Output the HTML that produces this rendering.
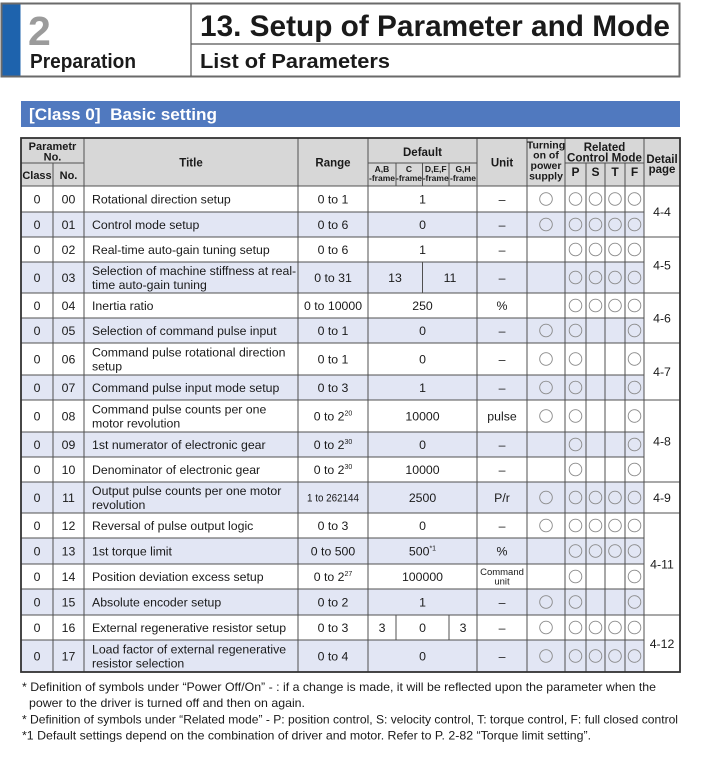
<!DOCTYPE html>
<html><head><meta charset="utf-8"><style>
html,body{margin:0;padding:0;background:#fff;}
svg{display:block;}
text{font-family:"Liberation Sans",Arial,sans-serif;fill:#1a1a1a;}
.b{font-weight:bold;}
.t{font-size:12.3px;}
.c{text-anchor:middle;}
.h{font-weight:bold;font-size:11.5px;text-anchor:middle;}
.ci{fill:none;stroke:#8a8a8a;stroke-width:0.9;}
</style></head><body>
<svg width="703" height="771" viewBox="0 0 703 771" xmlns="http://www.w3.org/2000/svg">
<!-- Page header -->
<rect x="1.5" y="3.5" width="678" height="73" fill="#fff" stroke="#6a6a6a" stroke-width="2"/>
<rect x="2.5" y="4.5" width="18" height="71" fill="#1e63ad"/>
<line x1="191" y1="4" x2="191" y2="76" stroke="#555" stroke-width="1.2"/>
<line x1="191" y1="44" x2="680" y2="44" stroke="#555" stroke-width="1.2"/>
<text x="28" y="45" class="b" style="font-size:41px;fill:#9b9b9b">2</text>
<text x="30" y="68" class="b" style="font-size:20px" textLength="106" lengthAdjust="spacingAndGlyphs">Preparation</text>
<text x="200" y="36" class="b" style="font-size:29.5px" textLength="470" lengthAdjust="spacingAndGlyphs">13. Setup of Parameter and Mode</text>
<text x="200" y="68" class="b" style="font-size:20px" textLength="190" lengthAdjust="spacingAndGlyphs">List of Parameters</text>

<!-- Class bar -->
<rect x="21" y="101" width="659" height="26" fill="#5079bf"/>
<text x="29" y="120" class="b" style="font-size:17px;fill:#fff" xml:space="preserve" textLength="188" lengthAdjust="spacingAndGlyphs">[Class 0]  Basic setting</text>

<!-- Table backgrounds -->
<rect x="21" y="138" width="659" height="48" fill="#d7d7d7"/>
<g fill="#e2e6f4">
<rect x="21" y="212" width="623" height="25"/>
<rect x="21" y="262" width="623" height="31"/>
<rect x="21" y="318" width="623" height="25"/>
<rect x="21" y="375" width="623" height="25"/>
<rect x="21" y="432" width="623" height="25"/>
<rect x="21" y="482" width="623" height="31"/>
<rect x="21" y="538" width="623" height="26"/>
<rect x="21" y="589" width="623" height="26"/>
<rect x="21" y="640" width="623" height="32"/>
</g>

<!-- Grid lines -->
<g stroke="#505050" stroke-width="1" fill="none">
<path d="M21 163H84M368 163H477M565 163H644"/>
<path d="M21 186H680M21 212H644M21 237H680M21 262H644M21 293H680M21 318H644M21 343H680M21 375H644M21 400H680M21 432H644M21 457H644M21 482H680M21 513H680M21 538H644M21 564H644M21 589H644M21 615H680M21 640H644"/>
<path d="M53 163V672M84 138V672M298 138V672M368 138V672M477 138V672M527 138V672M565 138V672M644 138V672"/>
<path d="M586 163V672M605 163V672M625 163V672"/>
<path d="M396 163V186M422.5 163V186M449 163V186"/>
<path d="M422.5 262V293M396 615V640M449 615V640"/>
</g>
<rect x="21" y="138" width="659" height="534" fill="none" stroke="#333" stroke-width="1.8"/>

<!-- Header text -->
<text x="52.5" y="150" class="h" style="font-size:11px">Parametr</text>
<text x="52.5" y="160.5" class="h" style="font-size:11px">No.</text>
<text x="37" y="179" class="h" style="font-size:11px">Class</text>
<text x="68.5" y="179" class="h" style="font-size:11px">No.</text>
<text x="191" y="166.5" class="h">Title</text>
<text x="333" y="166.5" class="h">Range</text>
<text x="422.5" y="156" class="h">Default</text>
<g class="h" style="font-size:8.5px">
<text x="382" y="172" class="h" style="font-size:8.5px">A,B</text>
<text x="382" y="181" class="h" style="font-size:8.5px">-frame</text>
<text x="409" y="172" class="h" style="font-size:8.5px">C</text>
<text x="409" y="181" class="h" style="font-size:8.5px">-frame</text>
<text x="435.7" y="172" class="h" style="font-size:8.5px">D,E,F</text>
<text x="435.7" y="181" class="h" style="font-size:8.5px">-frame</text>
<text x="463" y="172" class="h" style="font-size:8.5px">G,H</text>
<text x="463" y="181" class="h" style="font-size:8.5px">-frame</text>
</g>
<text x="502" y="166.5" class="h">Unit</text>
<text x="546" y="148.5" class="h" style="font-size:10.5px">Turning</text>
<text x="546" y="158.5" class="h" style="font-size:10.5px">on of</text>
<text x="546" y="169" class="h" style="font-size:10.5px">power</text>
<text x="546" y="179.5" class="h" style="font-size:10.5px">supply</text>
<text x="604.5" y="151" class="h">Related</text>
<text x="604.5" y="161.5" class="h" textLength="75" lengthAdjust="spacingAndGlyphs">Control Mode</text>
<text x="575.5" y="176" class="h" style="font-size:12px">P</text>
<text x="595.5" y="176" class="h" style="font-size:12px">S</text>
<text x="615" y="176" class="h" style="font-size:12px">T</text>
<text x="634.5" y="176" class="h" style="font-size:12px">F</text>
<text x="662" y="163" class="h">Detail</text>
<text x="662" y="173" class="h">page</text>

<!-- Class column -->
<g class="t c">
<text x="37" y="203.3" class="t c">0</text><text x="37" y="228.8" class="t c">0</text><text x="37" y="253.8" class="t c">0</text><text x="37" y="281.8" class="t c">0</text><text x="37" y="309.8" class="t c">0</text><text x="37" y="334.8" class="t c">0</text><text x="37" y="363.3" class="t c">0</text><text x="37" y="391.8" class="t c">0</text><text x="37" y="420.3" class="t c">0</text><text x="37" y="448.8" class="t c">0</text><text x="37" y="473.8" class="t c">0</text><text x="37" y="501.8" class="t c">0</text><text x="37" y="529.8" class="t c">0</text><text x="37" y="555.3" class="t c">0</text><text x="37" y="580.8" class="t c">0</text><text x="37" y="606.3" class="t c">0</text><text x="37" y="631.8" class="t c">0</text><text x="37" y="660.3" class="t c">0</text>
</g>
<!-- No column -->
<text x="68.5" y="203.3" class="t c">00</text><text x="68.5" y="228.8" class="t c">01</text><text x="68.5" y="253.8" class="t c">02</text><text x="68.5" y="281.8" class="t c">03</text><text x="68.5" y="309.8" class="t c">04</text><text x="68.5" y="334.8" class="t c">05</text><text x="68.5" y="363.3" class="t c">06</text><text x="68.5" y="391.8" class="t c">07</text><text x="68.5" y="420.3" class="t c">08</text><text x="68.5" y="448.8" class="t c">09</text><text x="68.5" y="473.8" class="t c">10</text><text x="68.5" y="501.8" class="t c">11</text><text x="68.5" y="529.8" class="t c">12</text><text x="68.5" y="555.3" class="t c">13</text><text x="68.5" y="580.8" class="t c">14</text><text x="68.5" y="606.3" class="t c">15</text><text x="68.5" y="631.8" class="t c">16</text><text x="68.5" y="660.3" class="t c">17</text>

<!-- Titles -->
<text x="92" y="203.3" class="t">Rotational direction setup</text>
<text x="92" y="228.8" class="t">Control mode setup</text>
<text x="92" y="253.8" class="t">Real-time auto-gain tuning setup</text>
<text x="92" y="275" class="t">Selection of machine stiffness at real-</text>
<text x="92" y="289" class="t">time auto-gain tuning</text>
<text x="92" y="309.8" class="t">Inertia ratio</text>
<text x="92" y="334.8" class="t">Selection of command pulse input</text>
<text x="92" y="356.5" class="t">Command pulse rotational direction</text>
<text x="92" y="370.5" class="t">setup</text>
<text x="92" y="391.8" class="t">Command pulse input mode setup</text>
<text x="92" y="413.5" class="t">Command pulse counts per one</text>
<text x="92" y="427.5" class="t">motor revolution</text>
<text x="92" y="448.8" class="t">1st numerator of electronic gear</text>
<text x="92" y="473.8" class="t">Denominator of electronic gear</text>
<text x="92" y="495" class="t">Output pulse counts per one motor</text>
<text x="92" y="509" class="t">revolution</text>
<text x="92" y="529.8" class="t">Reversal of pulse output logic</text>
<text x="92" y="555.3" class="t">1st torque limit</text>
<text x="92" y="580.8" class="t">Position deviation excess setup</text>
<text x="92" y="606.3" class="t">Absolute encoder setup</text>
<text x="92" y="631.8" class="t">External regenerative resistor setup</text>
<text x="92" y="653.5" class="t">Load factor of external regenerative</text>
<text x="92" y="667.5" class="t">resistor selection</text>

<!-- Range -->
<text x="333" y="203.3" class="t c">0 to 1</text>
<text x="333" y="228.8" class="t c">0 to 6</text>
<text x="333" y="253.8" class="t c">0 to 6</text>
<text x="333" y="281.8" class="t c">0 to 31</text>
<text x="333" y="309.8" class="t c">0 to 10000</text>
<text x="333" y="334.8" class="t c">0 to 1</text>
<text x="333" y="363.3" class="t c">0 to 1</text>
<text x="333" y="391.8" class="t c">0 to 3</text>
<text x="333" y="420.3" class="t c">0 to 2<tspan dy="-5" style="font-size:7px">20</tspan></text>
<text x="333" y="448.8" class="t c">0 to 2<tspan dy="-5" style="font-size:7px">30</tspan></text>
<text x="333" y="473.8" class="t c">0 to 2<tspan dy="-5" style="font-size:7px">30</tspan></text>
<text x="333" y="501.5" class="c" style="font-size:11px" textLength="52" lengthAdjust="spacingAndGlyphs">1 to 262144</text>
<text x="333" y="529.8" class="t c">0 to 3</text>
<text x="333" y="555.3" class="t c">0 to 500</text>
<text x="333" y="580.8" class="t c">0 to 2<tspan dy="-5" style="font-size:7px">27</tspan></text>
<text x="333" y="606.3" class="t c">0 to 2</text>
<text x="333" y="631.8" class="t c">0 to 3</text>
<text x="333" y="660.3" class="t c">0 to 4</text>

<!-- Default -->
<text x="422.5" y="203.3" class="t c">1</text>
<text x="422.5" y="228.8" class="t c">0</text>
<text x="422.5" y="253.8" class="t c">1</text>
<text x="395" y="281.8" class="t c">13</text>
<text x="450" y="281.8" class="t c">11</text>
<text x="422.5" y="309.8" class="t c">250</text>
<text x="422.5" y="334.8" class="t c">0</text>
<text x="422.5" y="363.3" class="t c">0</text>
<text x="422.5" y="391.8" class="t c">1</text>
<text x="422.5" y="420.3" class="t c">10000</text>
<text x="422.5" y="448.8" class="t c">0</text>
<text x="422.5" y="473.8" class="t c">10000</text>
<text x="422.5" y="501.8" class="t c">2500</text>
<text x="422.5" y="529.8" class="t c">0</text>
<text x="422.5" y="555.3" class="t c">500<tspan dy="-5" style="font-size:7px">*1</tspan></text>
<text x="422.5" y="580.8" class="t c">100000</text>
<text x="422.5" y="606.3" class="t c">1</text>
<text x="382" y="631.8" class="t c">3</text>
<text x="422.5" y="631.8" class="t c">0</text>
<text x="463" y="631.8" class="t c">3</text>
<text x="422.5" y="660.3" class="t c">0</text>

<!-- Unit -->
<text x="502" y="203.3" class="t c">–</text>
<text x="502" y="228.8" class="t c">–</text>
<text x="502" y="253.8" class="t c">–</text>
<text x="502" y="281.8" class="t c">–</text>
<text x="502" y="309.8" class="t c">%</text>
<text x="502" y="334.8" class="t c">–</text>
<text x="502" y="363.3" class="t c">–</text>
<text x="502" y="391.8" class="t c">–</text>
<text x="502" y="420.3" class="t c">pulse</text>
<text x="502" y="448.8" class="t c">–</text>
<text x="502" y="473.8" class="t c">–</text>
<text x="502" y="501.8" class="t c">P/r</text>
<text x="502" y="529.8" class="t c">–</text>
<text x="502" y="555.3" class="t c">%</text>
<text x="502" y="575" class="c" style="font-size:9.5px">Command</text>
<text x="502" y="584.5" class="c" style="font-size:9.5px">unit</text>
<text x="502" y="606.3" class="t c">–</text>
<text x="502" y="631.8" class="t c">–</text>
<text x="502" y="660.3" class="t c">–</text>

<!-- Circles -->
<g class="ci">
<!-- turning column -->
<circle cx="546" cy="199" r="6.3"/><circle cx="546" cy="224.5" r="6.3"/>
<circle cx="546" cy="330.5" r="6.3"/><circle cx="546" cy="359" r="6.3"/><circle cx="546" cy="387.5" r="6.3"/><circle cx="546" cy="416" r="6.3"/>
<circle cx="546" cy="497.5" r="6.3"/><circle cx="546" cy="525.5" r="6.3"/>
<circle cx="546" cy="602" r="6.3"/><circle cx="546" cy="627.5" r="6.3"/><circle cx="546" cy="656" r="6.3"/>
<!-- P column (all rows) -->
<circle cx="575.5" cy="199" r="6.3"/><circle cx="575.5" cy="224.5" r="6.3"/><circle cx="575.5" cy="249.5" r="6.3"/><circle cx="575.5" cy="277.5" r="6.3"/><circle cx="575.5" cy="305.5" r="6.3"/><circle cx="575.5" cy="330.5" r="6.3"/><circle cx="575.5" cy="359" r="6.3"/><circle cx="575.5" cy="387.5" r="6.3"/><circle cx="575.5" cy="416" r="6.3"/><circle cx="575.5" cy="444.5" r="6.3"/><circle cx="575.5" cy="469.5" r="6.3"/><circle cx="575.5" cy="497.5" r="6.3"/><circle cx="575.5" cy="525.5" r="6.3"/><circle cx="575.5" cy="551" r="6.3"/><circle cx="575.5" cy="576.5" r="6.3"/><circle cx="575.5" cy="602" r="6.3"/><circle cx="575.5" cy="627.5" r="6.3"/><circle cx="575.5" cy="656" r="6.3"/>
<!-- F column (all rows) -->
<circle cx="634.5" cy="199" r="6.3"/><circle cx="634.5" cy="224.5" r="6.3"/><circle cx="634.5" cy="249.5" r="6.3"/><circle cx="634.5" cy="277.5" r="6.3"/><circle cx="634.5" cy="305.5" r="6.3"/><circle cx="634.5" cy="330.5" r="6.3"/><circle cx="634.5" cy="359" r="6.3"/><circle cx="634.5" cy="387.5" r="6.3"/><circle cx="634.5" cy="416" r="6.3"/><circle cx="634.5" cy="444.5" r="6.3"/><circle cx="634.5" cy="469.5" r="6.3"/><circle cx="634.5" cy="497.5" r="6.3"/><circle cx="634.5" cy="525.5" r="6.3"/><circle cx="634.5" cy="551" r="6.3"/><circle cx="634.5" cy="576.5" r="6.3"/><circle cx="634.5" cy="602" r="6.3"/><circle cx="634.5" cy="627.5" r="6.3"/><circle cx="634.5" cy="656" r="6.3"/>
<!-- S and T columns -->
<circle cx="595.5" cy="199" r="6.3"/><circle cx="615" cy="199" r="6.3"/>
<circle cx="595.5" cy="224.5" r="6.3"/><circle cx="615" cy="224.5" r="6.3"/>
<circle cx="595.5" cy="249.5" r="6.3"/><circle cx="615" cy="249.5" r="6.3"/>
<circle cx="595.5" cy="277.5" r="6.3"/><circle cx="615" cy="277.5" r="6.3"/>
<circle cx="595.5" cy="305.5" r="6.3"/><circle cx="615" cy="305.5" r="6.3"/>
<circle cx="595.5" cy="497.5" r="6.3"/><circle cx="615" cy="497.5" r="6.3"/>
<circle cx="595.5" cy="525.5" r="6.3"/><circle cx="615" cy="525.5" r="6.3"/>
<circle cx="595.5" cy="551" r="6.3"/><circle cx="615" cy="551" r="6.3"/>
<circle cx="595.5" cy="627.5" r="6.3"/><circle cx="615" cy="627.5" r="6.3"/>
<circle cx="595.5" cy="656" r="6.3"/><circle cx="615" cy="656" r="6.3"/>
</g>

<!-- Detail page -->
<text x="662" y="216" class="t c">4-4</text>
<text x="662" y="269.5" class="t c">4-5</text>
<text x="662" y="322.3" class="t c">4-6</text>
<text x="662" y="375.8" class="t c">4-7</text>
<text x="662" y="445.3" class="t c">4-8</text>
<text x="662" y="501.8" class="t c">4-9</text>
<text x="662" y="568.3" class="t c">4-11</text>
<text x="662" y="660" class="t c" transform="translate(0,-12)">4-12</text>

<!-- Footnotes -->
<text x="22" y="691" style="font-size:11.6px" textLength="634" lengthAdjust="spacingAndGlyphs">* Definition of symbols under “Power Off/On” - : if a change is made, it will be reflected upon the parameter when the</text>
<text x="29" y="707" style="font-size:11.6px" textLength="276" lengthAdjust="spacingAndGlyphs">power to the driver is turned off and then on again.</text>
<text x="22" y="723.3" style="font-size:11.6px" textLength="656" lengthAdjust="spacingAndGlyphs">* Definition of symbols under “Related mode” - P: position control, S: velocity control, T: torque control, F: full closed control</text>
<text x="22" y="739.5" style="font-size:11.6px" textLength="569" lengthAdjust="spacingAndGlyphs">*1 Default settings depend on the combination of driver and motor. Refer to P. 2-82 “Torque limit setting”.</text>
</svg>
</body></html>
